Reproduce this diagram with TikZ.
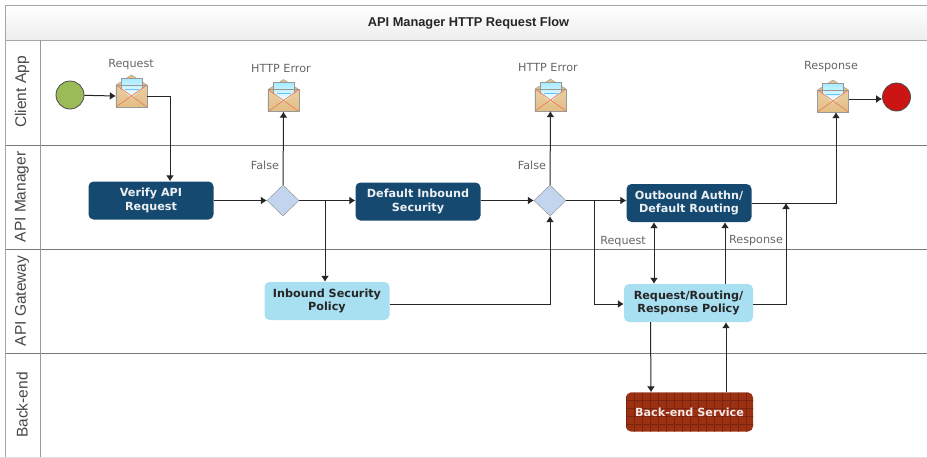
\documentclass[tikz,border=0pt]{standalone}
\usepackage{fontspec}
\setmainfont{Liberation Sans}
\newfontfamily\boxfont{DejaVu Sans}
\usetikzlibrary{shapes.geometric, arrows.meta, positioning, calc}
\definecolor{lanegray}{HTML}{7A7A7A}
\definecolor{labelgray}{HTML}{666666}
\definecolor{darkblue}{HTML}{15496F}
\definecolor{lightblue}{HTML}{A8DFF1}
\definecolor{brick}{HTML}{9C3013}
\definecolor{diamondblue}{HTML}{C3D5EE}
\definecolor{mailtan}{HTML}{E3BE85}
\definecolor{startgreen}{HTML}{9BBB59}
\definecolor{stopred}{HTML}{CC1414}
\tikzset{
  arrow/.style={-{Latex[length=6pt,width=8pt]},line width=1pt,draw=black!85},
  bothways/.style={arrow,{Latex[length=6pt,width=8pt]}-{Latex[length=6pt,width=8pt]}},
  lane/.style={draw=lanegray,line width=0.9pt},
  lanelabel/.style={rotate=90,font=\fontsize{15.5}{16}\selectfont,text=black!72},
  note/.style={font=\boxfont\fontsize{11.2}{12}\selectfont,text=labelgray},
  taskbox/.style={rectangle,rounded corners=5pt,minimum width=125pt,minimum height=38pt,align=center,
    inner sep=1pt,font=\boxfont\bfseries\fontsize{11.2}{13.5}\selectfont},
  outer/.style={taskbox,fill=darkblue,text=white!92!darkblue},
  policy/.style={taskbox,fill=lightblue,text=black!85},
  backend/.style={taskbox,fill=brick,text=white!88!brick,
    path picture={\foreach \i in {0,...,16}{\draw[black!22!brick,line width=0.6pt]
      ($(path picture bounding box.north west)+(\i*8pt,0)$) -- ++(0,-40pt);}
      \foreach \j in {0,...,5}{\draw[black!22!brick,line width=0.6pt]
      ($(path picture bounding box.north west)+(0,-\j*8pt)$) -- ++(130pt,0);}}},
  gateway/.style={diamond,draw=black!45,fill=diamondblue,minimum width=32pt,minimum height=31pt,inner sep=0pt},
  startevent/.style={circle,draw=black!70,fill=startgreen,minimum size=28pt,inner sep=0pt,line width=0.8pt},
  endevent/.style={circle,draw=black!70,fill=stopred,minimum size=28pt,inner sep=0pt,line width=0.8pt},
  mail/.style={rectangle,minimum width=31pt,minimum height=22pt,inner sep=0pt}
}
% envelope drawn on top of a named mail node
\newcommand{\envelope}[1]{
  \begin{scope}[shift={(#1.center)}]
    \fill[mailtan,draw=black!40] (-15.5,-11) -- (0,-21) -- (15.5,-11) -- (15.5,11) -- (-15.5,11) -- cycle;
    \shade[top color=blue!22!cyan!35!white,bottom color=white,draw=black!40] (-10.5,-18) rectangle (10.5,2);
    \draw[blue!40!cyan!60!white,line width=0.8pt] (-7,-11) -- (7,-11) (-7,-7) -- (7,-7);
    \shade[top color=mailtan!75!white,bottom color=mailtan] (-15.5,-11) -- (0,2) -- (15.5,-11) -- (15.5,11) -- (-15.5,11) -- cycle;
    \draw[red!30!mailtan,line width=0.8pt] (-15.5,-11) -- (15.5,11) (15.5,-11) -- (-15.5,11);
    \draw[black!40] (-15.5,-11) rectangle (15.5,11);
  \end{scope}
}

\begin{document}
\begin{tikzpicture}[x=1pt,y=-1pt]
\useasboundingbox (0,0) rectangle (927,458);

% Frame and lanes
\shade[top color=white,bottom color=black!7] (5,5) rectangle (927,40);
\draw[lane,black!35] (5,5) -- (927,5);
\draw[lane,black!35] (5,40) -- (927,40);
\draw[lane] (5,145) -- (927,145);
\draw[lane] (5,249) -- (927,249);
\draw[lane] (5,353) -- (927,353);
\draw[lane,black!35] (5,5) -- (5,458);
\draw[lane,black!40] (40,40) -- (40,458);
\draw[black!12] (0,457.5) -- (927,457.5);

% Title and lane names
\node (title) [font=\bfseries\fontsize{12.8}{13}\selectfont,text=black!85] at (468.5,23) {API Manager HTTP Request Flow};
\node (clientlane) [lanelabel] at (22,92) {Client App};
\node (managerlane) [lanelabel] at (22,197) {API Manager};
\node (gatewaylane) [lanelabel] at (22,301) {API Gateway};
\node (backendlane) [lanelabel] at (22,405) {Back-end};

% Client App
\node (start) [startevent] at (70,95) {};
\node (reqmail) [mail] at (131.5,96) {};
\node (errmaila) [mail] at (283.5,100.5) {};
\node (errmailb) [mail] at (550.5,100) {};
\node (respmail) [mail] at (833,101) {};
\node (stop) [endevent] at (896.5,97) {};
\envelope{reqmail}
\envelope{errmaila}
\envelope{errmailb}
\envelope{respmail}
\node (reqlabel) [note] at (131,65) {Request};
\node (erralabel) [note] at (281,68) {HTTP Error};
\node (errblabel) [note] at (548,67) {HTTP Error};
\node (resplabel) [note] at (831,67) {Response};

% API Manager
\node (verify) [outer] at (151,200.5) {Verify API\\Request};
\node (checka) [gateway] at (283,200.5) {};
\node (inbound) [outer] at (418,201.5) {Default Inbound\\Security};
\node (checkb) [gateway] at (550,200.5) {};
\node (outbound) [outer] at (689,203) {Outbound Authn/\\Default Routing};
\node (falsea) [note] at (265,165) {False};
\node (falseb) [note] at (532,165) {False};

% API Gateway
\node (secpolicy) [policy] at (327,301) {Inbound Security\\Policy};
\node (routing) [policy,minimum width=129pt] at (688.5,303) {Request/Routing/\\Response Policy};
\node (reqnote) [note] at (623,242) {Request};
\node (respnote) [note] at (756,241) {Response};

% Back-end
\node (service) [backend,minimum width=127pt,minimum height=39pt] at (689.5,412) {Back-end Service};

% Arrows
\coordinate (branchsec) at (325,200.5);
\coordinate (branchrout) at (594,200.5);
\coordinate (joinresp) at (786,203);
\draw [arrow] (start) -- (reqmail.west);
\draw [arrow] (reqmail.east) -| ([xshift=19pt]verify.north);
\draw [arrow] (verify) -- (checka);
\draw [arrow] (checka) -- (errmaila);
\draw [arrow] (checka) -- (checka -| inbound.west);
\draw [arrow] (branchsec) -- (branchsec |- secpolicy.north);
\draw [arrow] (checkb -| inbound.east) -- (checkb);
\draw [arrow] ([yshift=-3pt]secpolicy.east) -| (checkb.south);
\draw [arrow] (checkb) -- (errmailb);
\draw [arrow] (checkb) -- (checkb -| outbound.west);
\draw [arrow] (branchrout) |- ([yshift=-1pt]routing.west);
\draw [bothways] ([xshift=-35pt]outbound.south) -- ([xshift=-34.5pt]routing.north);
\draw [arrow] ([xshift=36.5pt]routing.north) -- ([xshift=36pt]outbound.south);
\draw [arrow] ([yshift=-1pt]routing.east) -| (joinresp);
\draw [arrow] (outbound.east) -| ([xshift=3pt]respmail.south);
\draw [arrow] ([yshift=2pt]respmail.east) -- ([yshift=2pt]respmail.east -| stop.west);
\draw [arrow] ([xshift=-38pt]routing.south) -- ([xshift=-38.5pt]service.north);
\draw [arrow] ([xshift=36.5pt]service.north) -- ([xshift=37.5pt]routing.south);

\end{tikzpicture}
\end{document}
